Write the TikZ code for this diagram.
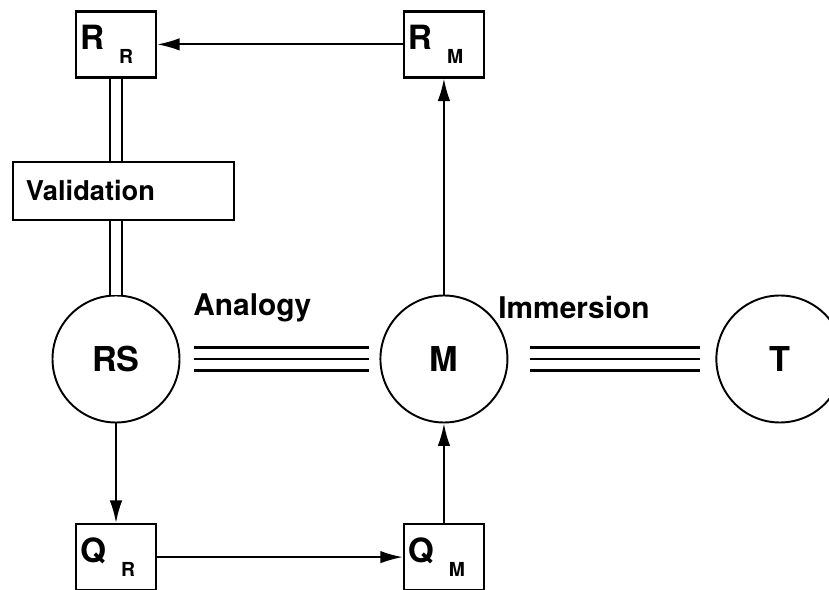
\documentclass[tikz,border=0pt]{standalone}
\usepackage{fontspec}
\setmainfont{TeX Gyre Heros}
\usepackage{tikz}
\usetikzlibrary{arrows.meta,positioning}
% letter with its index set low and to the right
\newcommand{\sublbl}[2]{#1\hspace{0.45em}\raisebox{-0.4em}{\fontsize{11}{12}\selectfont #2}}
\tikzset{
  quantity/.style={
    draw,
    line width=1.3pt,
    align=left,
    font=\bfseries\fontsize{19}{22}\selectfont,
    text width=1.44cm,
    minimum height=1.32cm,
    inner xsep=0.08cm,
    inner ysep=0pt
  },
  stage/.style={
    draw,
    line width=1.3pt,
    align=left,
    font=\bfseries\fontsize{15.5}{18}\selectfont,
    text width=3.9cm,
    minimum height=1.16cm,
    inner xsep=0.26cm
  },
  system/.style={
    draw,
    circle,
    line width=1.1pt,
    minimum size=2.54cm,
    inner sep=0pt,
    font=\bfseries\fontsize{19.5}{22}\selectfont
  },
  tag/.style={font=\bfseries\fontsize{17}{20}\selectfont, inner sep=0pt, anchor=base west},
  rel/.style={-{Latex[length=4.5mm,width=2.5mm]}, line width=1.1pt},
  link/.style={double, double distance=2mm, line width=1pt},
  bond/.style={line width=1.2pt}
}
\begin{document}
\begin{tikzpicture}[node distance=1.99cm]
  \useasboundingbox (0,0) rectangle (16.58,11.78);

  \node[system] (RS) at (2.32,4.6) {RS};
  \node[system, right=3.98cm of RS] (M) {M};
  \node[system, right=4.14cm of M] (T) {T};

  \node[quantity, above=4.32cm of RS] (RR) {\sublbl{R}{R}};
  \node[quantity, above=4.32cm of M] (RM) {\sublbl{R}{M}};
  \node[quantity, below=of RS] (QR) {\sublbl{Q}{R}};
  \node[quantity, below=of M] (QM) {\sublbl{Q}{M}};

  \node[stage, below=1.64cm of RR, xshift=0.15cm] (val) {Validation};

  \node[tag] (analogy) at (3.86,5.46) {Analogy};
  \node[tag] (immersion) at (9.96,5.40) {Immersion};

  \draw[rel] (RM) -- (RR);
  \draw[rel] (M) -- (RM);
  \draw[rel] (RS) -- (QR);
  \draw[rel] (QR) -- (QM);
  \draw[rel] (QM) -- (M);

  \draw[link] (RR.south) -- (RR.south |- val.north);
  \draw[link] (RS.north |- val.south) -- (RS.north);

  \foreach \dy in {-0.23,0,0.23} {
    \draw[bond, shorten <=0.28cm, shorten >=0.2cm] ([yshift=\dy cm]RS.east) -- ([yshift=\dy cm]M.west);
    \draw[bond, shorten <=0.44cm, shorten >=0.3cm] ([yshift=\dy cm]M.east) -- ([yshift=\dy cm]T.west);
  }
\end{tikzpicture}
\end{document}
